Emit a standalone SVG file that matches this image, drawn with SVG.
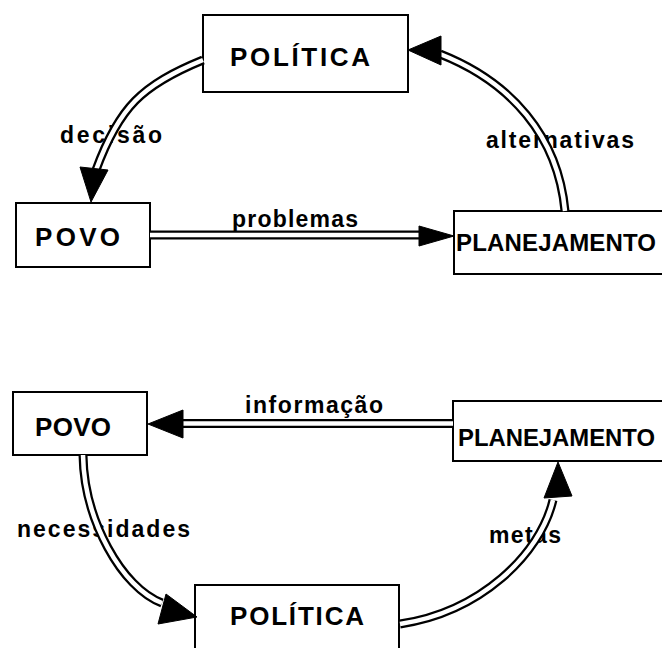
<svg xmlns="http://www.w3.org/2000/svg" xmlns:xlink="http://www.w3.org/1999/xlink" width="662" height="648" viewBox="0 0 662 648">
<style>
.box{fill:#fff;stroke:#000;stroke-width:2}
.open{fill:#fff;stroke:#000;stroke-width:2}
.node{font-family:"Liberation Sans",Arial,sans-serif;font-weight:bold;font-size:26px;fill:#000}
.plan{font-size:24px}
.lbl{font-family:"Liberation Sans",Arial,sans-serif;font-weight:bold;font-size:23px;fill:#000}
.wo{fill:none;stroke:#000;stroke-width:9}
.wi{fill:none;stroke:#fff;stroke-width:4.5}
.head{fill:#000;stroke:#000;stroke-width:1;stroke-linejoin:round}
</style>
<defs>
<path id="p-decisao" d="M203,60 C142,85 119,107 96,170"/>
<path id="p-problemas" d="M150,235 H421"/>
<path id="p-alternativas" d="M565,211 C558,136 511,82 440,54"/>
<path id="p-informacao" d="M182,423.5 H453"/>
<path id="p-necessidades" d="M83,455 C84,520 122,588 162,603"/>
<path id="p-metas" d="M400,624 C480,612 540,555 553,500"/>
</defs>
<rect width="662" height="648" fill="#fff"/>

<g id="top-politica">
<rect class="box" x="203" y="15" width="205" height="77"/>
<text class="node" x="230" y="66" textLength="140">POLÍTICA</text>
</g>
<g id="top-povo">
<rect class="box" x="16" y="203" width="134" height="64"/>
<text class="node" x="35" y="246" textLength="85">POVO</text>
</g>
<g id="top-planejamento">
<path class="open" d="M662,211 H454 V274 H662"/>
<text class="node plan" x="456" y="251" textLength="200">PLANEJAMENTO</text>
</g>

<g id="bottom-povo">
<rect class="box" x="13" y="392" width="134" height="63"/>
<text class="node" x="35" y="436" textLength="76">POVO</text>
</g>
<g id="bottom-planejamento">
<path class="open" d="M662,401 H453 V461 H662"/>
<text class="node plan" x="458" y="446" textLength="197" lengthAdjust="spacingAndGlyphs">PLANEJAMENTO</text>
</g>
<g id="bottom-politica">
<path class="open" d="M195,648 V585 H399 V648"/>
<text class="node" x="230" y="625" textLength="134">POLÍTICA</text>
</g>

<g id="labels">
<text class="lbl" x="60" y="143" textLength="102">decisão</text>
<text class="lbl" x="232" y="227" textLength="126">problemas</text>
<text class="lbl" x="486" y="148" textLength="148">alternativas</text>
<text class="lbl" x="245" y="413" textLength="138">informação</text>
<text class="lbl" x="17" y="537" textLength="173">necessidades</text>
<text class="lbl" x="489" y="543" textLength="72">metas</text>
</g>

<g id="connectors">
<use xlink:href="#p-decisao" class="wo"/><use xlink:href="#p-decisao" class="wi"/>
<use xlink:href="#p-problemas" class="wo"/><use xlink:href="#p-problemas" class="wi"/>
<use xlink:href="#p-alternativas" class="wo"/><use xlink:href="#p-alternativas" class="wi"/>
<use xlink:href="#p-informacao" class="wo"/><use xlink:href="#p-informacao" class="wi"/>
<use xlink:href="#p-necessidades" class="wo"/><use xlink:href="#p-necessidades" class="wi"/>
<use xlink:href="#p-metas" class="wo"/><use xlink:href="#p-metas" class="wi"/>
<polygon class="head" points="80,167 108,170 91,202"/>
<polygon class="head" points="419,226 419,246 454,236"/>
<polygon class="head" points="441,36 441,65 408,50"/>
<polygon class="head" points="183,410 183,438 148,424"/>
<polygon class="head" points="166,594 158,624 197,617"/>
<polygon class="head" points="544,498 572,496 558,462"/>
</g>
</svg>
